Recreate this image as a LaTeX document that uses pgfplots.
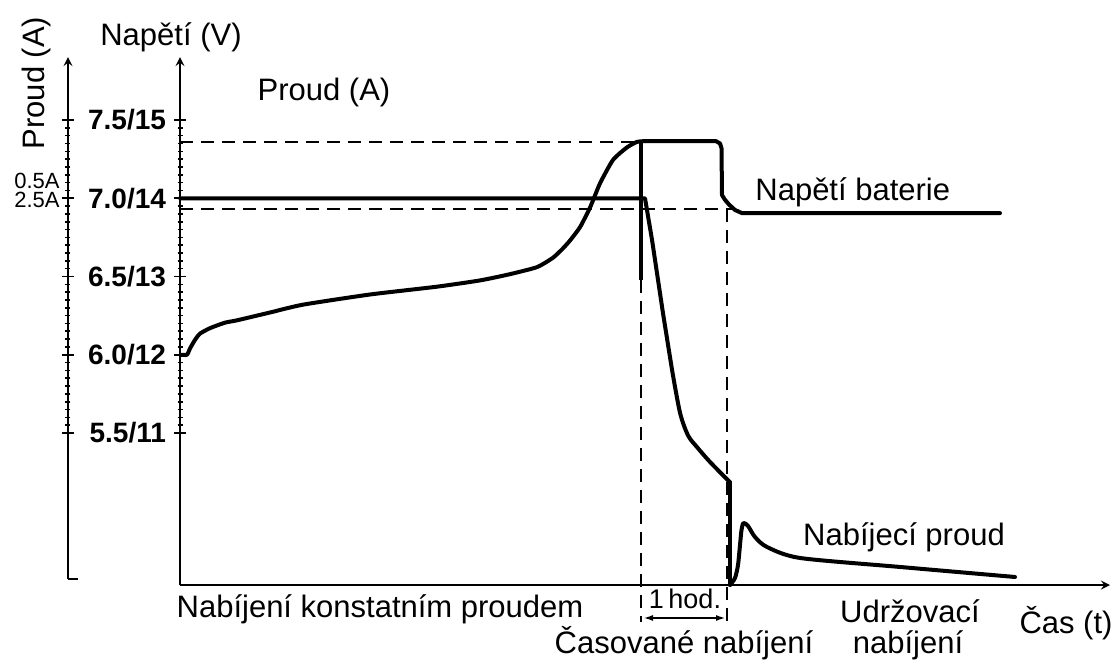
\documentclass[border=0pt]{standalone}
\usepackage{pgfplots}
\pgfplotsset{compat=1.18}
\usepackage{fontspec}
\setmainfont{Liberation Sans}
\usetikzlibrary{arrows.meta}
\begin{document}
\begin{tikzpicture}[x=1pt,y=1pt]
\useasboundingbox (0,0) rectangle (557.5,330.5);
\pgfplotsset{
  myax/.style={scale only axis, clip=false,
    axis line style={line width=1pt, -{Latex[length=8pt,width=4.5pt]}},
    ytick={11,12,13,14,15},
    minor ytick={11,11.1,...,15},
    tick align=inside, major tick length=6pt, minor tick length=2.5pt,
    every tick/.style={line width=0.8pt, black},
    xtick=\empty},
  dsh/.style={line width=1.1pt, black, dash pattern=on 6.5pt off 4pt},
  crv/.style={line width=2pt, black, line join=round, line cap=round},
}
% left current axis
\begin{axis}[myax, at={(34pt,41pt)}, anchor=south west,
  width=5pt, height=261pt, xmin=0, xmax=1, ymin=9.1342, ymax=15.805,
  axis x line=bottom, axis y line=left,
  x axis line style={draw=none},
  yticklabels={{},{},{},{},{}}]
\draw[line width=1pt] (rel axis cs:0,0) -- (rel axis cs:1,0);
\end{axis}
% main axis
\begin{axis}[myax, at={(90pt,38pt)}, anchor=south west,
  width=465pt, height=264pt, xmin=180, xmax=1110, ymin=9.0575, ymax=15.805,
  axis x line=bottom, axis y line=left,
  yticklabels={5.5/11,6.0/12,6.5/13,7.0/14,7.5/15},
  yticklabel style={font=\fontsize{14}{16}\selectfont\bfseries, xshift=-0.5pt}]
% dashed reference lines
\addplot[dsh] coordinates {(180,14.72) (640,14.72)};
\addplot[dsh] coordinates {(180,13.86) (735,13.86)};
\addplot[dsh] coordinates {(641,12.955) (641,8.585)};
\addplot[dsh] coordinates {(727,13.86) (727,8.585)};
\addplot[line width=1.6pt, black] coordinates {(641,14.72) (641,12.955)};
% 1 hour bracket
\addplot[line width=1pt, black, {Latex[length=5pt,width=3pt]}-{Latex[length=5pt,width=3pt]}] coordinates {(643,8.636) (726,8.636)};
% battery voltage
\addplot[crv, smooth, tension=0.35] coordinates {
 (181,12.0) (187,12.0) (190,12.08) (195,12.19) (200,12.27) (210,12.34) (225,12.41)
 (237,12.44) (270,12.54) (303,12.64) (370,12.77) (437,12.87) (480,12.95)
 (510,13.03) (537,13.12) (553,13.24) (563,13.36) (570,13.46) (580,13.63)
 (590,13.88) (600,14.19) (613,14.49) (627,14.65) (637,14.72) (645,14.73)};
\addplot[crv] coordinates {
 (645,14.73) (716,14.73) (720,14.70) (721.5,14.64) (722,14.04) (725,13.98)
 (729,13.92) (735,13.85) (742,13.81) (1000,13.81)};
% charging current
\addplot[crv] coordinates {(180,14.0) (645,14.0) (652,13.47) (663,12.53) (672,11.81)};
\addplot[crv, smooth, tension=0.5] coordinates {
 (672,11.81) (680,11.26) (688,10.97) (697,10.82) (710,10.63) (730,10.37)};
\addplot[crv] coordinates {(730,10.37) (730,9.06)};
\addplot[crv, smooth, tension=0.45] coordinates {
 (730,9.058) (735,9.147) (738,9.313) (740,9.569) (741.5,9.76) (743.5,9.85)
 (748,9.812) (755,9.671) (767,9.543) (800,9.403) (900,9.288) (1015,9.16)};
\end{axis}
% texts
\begin{scope}[every node/.style={inner sep=0pt, font=\fontsize{15.5}{18}\selectfont}]
\node[rotate=90, anchor=center] at (18,289) {Proud (A)};
\node[anchor=base] at (85.5,308) {Napětí (V)};
\node[anchor=base] at (162,280.5) {Proud (A)};
\node[anchor=base west] at (377.5,230.5) {Napětí baterie};
\node[anchor=base] at (452,58) {Nabíjecí proud};
\node[anchor=base] at (190,22) {Nabíjení konstatním proudem};
\node[anchor=base] at (342,4) {Časované nabíjení};
\node[anchor=base] at (455,19.5) {Udržovací};
\node[anchor=base] at (454,4) {nabíjení};
\node[anchor=base] at (533,14) {Čas (t)};
\node[anchor=base, font=\fontsize{13.5}{15}\selectfont] at (342.5,26.5) {1\,hod.};
\node[anchor=base east, font=\fontsize{11}{12}\selectfont] at (30,236.5) {0.5A};
\node[anchor=base east, font=\fontsize{11}{12}\selectfont] at (30,227) {2.5A};
\end{scope}
\end{tikzpicture}
\end{document}
